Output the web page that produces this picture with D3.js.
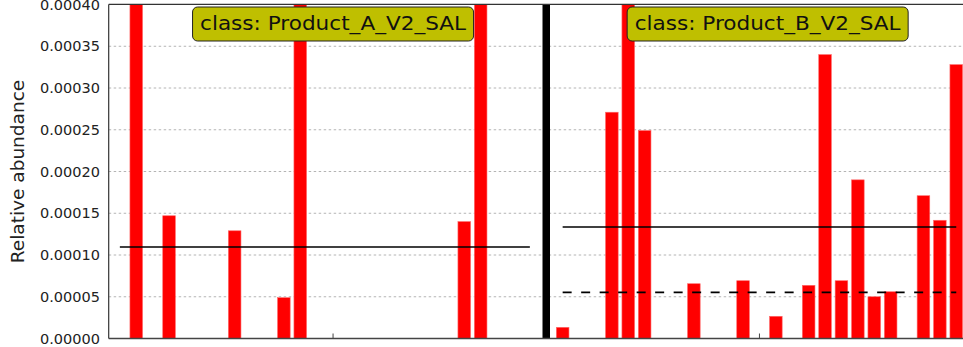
<!DOCTYPE html>
<html>
<head>
<meta charset="utf-8">
<script src="https://cdn.jsdelivr.net/npm/d3@7"></script>
<style>
  html, body { margin: 0; padding: 0; background: #fff; }
  svg { display: block; }
</style>
</head>
<body>
<div id="chart"></div>
<script>
// ---------------- data ----------------
const classes = ["Product_A_V2_SAL", "Product_B_V2_SAL"];
// first global sample index of each class
const classOffset = [0, 26];
// relative abundance of each sample (25 samples per class)
const valuesA = [0.00085, 0, 0.000147, 0, 0, 0, 0.000129, 0, 0, 0.0000489,
                 0.00062, 0, 0, 0, 0, 0, 0, 0, 0, 0,
                 0.00014, 0.000805, 0, 0, 0];
const valuesB = [0.0000134, 0, 0, 0.000271, 0.00124, 0.000249, 0, 0, 0.0000656, 0,
                 0, 0.0000692, 0, 0.0000266, 0, 0.0000637, 0.00034, 0.0000692, 0.00019, 0.00005,
                 0.000056, 0, 0.000171, 0.0001416, 0.000328];
const classValues = [valuesA, valuesB];
const classMean = [0.0001096, 0.0001336];
const classMedian = [0, 0.0000552];
const yTicks = [0, 0.00005, 0.0001, 0.00015, 0.0002, 0.00025, 0.0003, 0.00035, 0.0004];

// ---------------- layout ----------------
const W = 963, H = 347;
const plotLeft = 108.7, plotTop = 4.5, plotBottom = 338.5;
const step = 16.4;
const xMin = -1.68, xMax = 52;

const svg = d3.select("#chart").append("svg")
  .attr("width", W).attr("height", H)
  .style("font-family", "'DejaVu Sans', sans-serif");

const x = d3.scaleLinear().domain([xMin, xMax])
  .range([plotLeft, plotLeft + (xMax - xMin) * step]);
const y = d3.scaleLinear().domain([0, 0.0004]).range([plotBottom, plotTop]);
const plotRight = x(xMax);
const barW = 0.77 * step;

svg.append("defs").append("clipPath").attr("id", "plotclip")
  .append("rect").attr("x", plotLeft).attr("y", plotTop)
  .attr("width", plotRight - plotLeft).attr("height", plotBottom - plotTop);

// grid
svg.append("g").selectAll("line").data(yTicks.slice(1)).join("line")
  .attr("x1", plotLeft).attr("x2", plotRight)
  .attr("y1", d => y(d)).attr("y2", d => y(d))
  .attr("stroke", "#b4b4b4").attr("stroke-width", 1)
  .attr("stroke-dasharray", "2.5,2.5");

// bars
const samples = [];
classValues.forEach((vals, c) => vals.forEach((v, i) => samples.push({ idx: classOffset[c] + i, v })));
const plot = svg.append("g").attr("clip-path", "url(#plotclip)");
plot.selectAll("rect.bar").data(samples.filter(d => d.v > 0)).join("rect")
  .attr("class", "bar")
  .attr("x", d => x(d.idx) - barW / 2)
  .attr("width", barW)
  .attr("y", d => y(d.v))
  .attr("height", d => y(0) - y(d.v))
  .attr("fill", "#ff0000")
  .attr("stroke", "#ff6a6a").attr("stroke-width", 0.6);

// mean / median lines
classes.forEach((cl, c) => {
  const first = classOffset[c], last = classOffset[c] + classValues[c].length - 1;
  const from = c === 0 ? first - 1 : first;
  if (classMedian[c] > 0) {
    plot.append("line")
      .attr("x1", x(from)).attr("x2", x(last))
      .attr("y1", y(classMedian[c])).attr("y2", y(classMedian[c]))
      .attr("stroke", "#000").attr("stroke-width", 1.6)
      .attr("stroke-dasharray", "9,9.5");
  }
  plot.append("line")
    .attr("x1", x(from)).attr("x2", x(last))
    .attr("y1", y(classMean[c])).attr("y2", y(classMean[c]))
    .attr("stroke", "#000").attr("stroke-width", 1.4);
});

// class separator
plot.append("line")
  .attr("x1", x(25)).attr("x2", x(25))
  .attr("y1", y(0)).attr("y2", plotTop)
  .attr("stroke", "#000").attr("stroke-width", 7.5);

// spines
svg.append("line").attr("x1", plotLeft).attr("x2", plotRight)
  .attr("y1", plotBottom).attr("y2", plotBottom)
  .attr("stroke", "#444").attr("stroke-width", 1.5);
svg.append("line").attr("x1", plotLeft).attr("x2", plotRight)
  .attr("y1", plotTop - 0.2).attr("y2", plotTop - 0.2)
  .attr("stroke", "#333").attr("stroke-width", 1.2);
svg.append("line").attr("x1", plotLeft).attr("x2", plotLeft)
  .attr("y1", plotTop).attr("y2", plotBottom)
  .attr("stroke", "#333").attr("stroke-width", 1.2);

// x ticks at class centres
classes.forEach((cl, c) => {
  const mid = classOffset[c] + (classValues[c].length - 1) / 2;
  svg.append("line").attr("x1", x(mid)).attr("x2", x(mid))
    .attr("y1", plotBottom).attr("y2", plotBottom - 5)
    .attr("stroke", "#444").attr("stroke-width", 1);
});

// y tick labels
svg.append("g").selectAll("text").data(yTicks).join("text")
  .attr("x", 100).attr("y", d => y(d))
  .attr("dy", "0.36em")
  .attr("text-anchor", "end")
  .attr("font-size", "14.5px").attr("fill", "#222")
  .text(d => d3.format(".5f")(d));

// y label
svg.append("text")
  .attr("transform", `translate(24,${(plotTop + plotBottom) / 2}) rotate(-90)`)
  .attr("text-anchor", "middle")
  .attr("font-size", "18.5px").attr("fill", "#222")
  .text("Relative abundance");

// class label boxes
const labelShift = [0, 0.5];
classes.forEach((cl, c) => {
  const mid = classOffset[c] + (classValues[c].length - 1) / 2 + labelShift[c];
  const cx = x(mid);
  const bw = 281, bh = 34;
  svg.append("rect")
    .attr("x", cx - bw / 2).attr("y", 7)
    .attr("width", bw).attr("height", bh)
    .attr("rx", 5).attr("ry", 5)
    .attr("fill", "#bfbf00").attr("stroke", "#222").attr("stroke-width", 1);
  svg.append("text")
    .attr("x", cx).attr("y", 30)
    .attr("text-anchor", "middle")
    .attr("font-size", "20px").attr("fill", "#111")
    .attr("textLength", 266).attr("lengthAdjust", "spacingAndGlyphs")
    .text("class: " + cl);
});
</script>
</body>
</html>
